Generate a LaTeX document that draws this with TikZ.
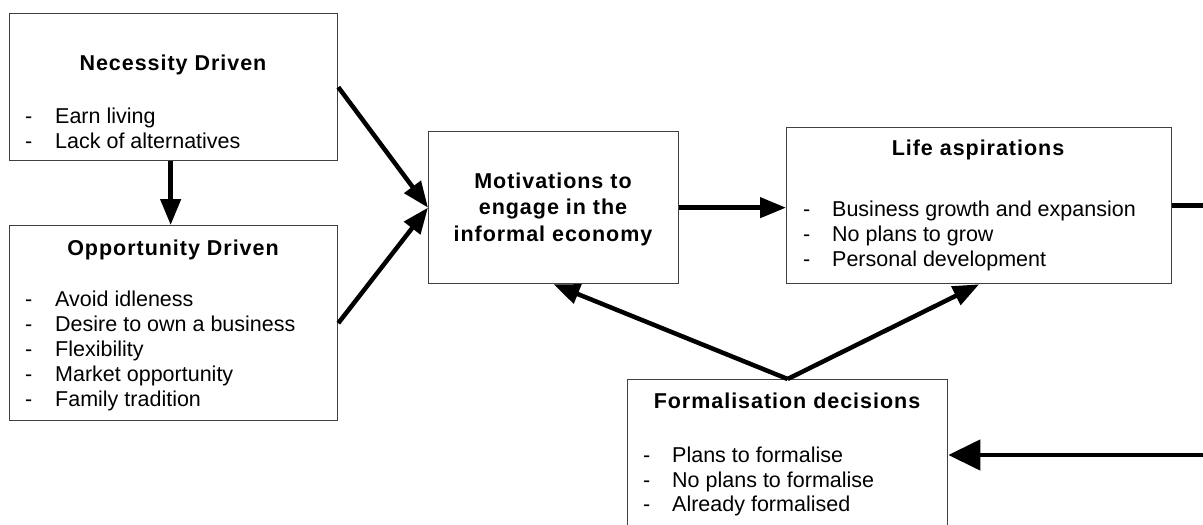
\documentclass[tikz,border=0pt]{standalone}
\usepackage{fontspec}
\setmainfont{Liberation Sans}
\newfontfamily\ttlfont{Liberation Sans}[LetterSpace=4.5]
\usetikzlibrary{arrows.meta}
\newcommand\mydash[1]{\makebox[#1][l]{-}}
\begin{document}
\begin{tikzpicture}[x=1pt,y=-1pt,
  box/.style={draw=black!75, line width=1.3pt, fill=white, anchor=north west, inner sep=0pt},
  ttl/.style={font=\ttlfont\bfseries\fontsize{21.5}{26}\selectfont, inner sep=0pt, anchor=base},
  itm/.style={font=\fontsize{21.5}{25}\selectfont, inner sep=0pt, anchor=base west},
  arr/.style={line width=4.5pt, -{Triangle[length=26pt,width=20pt]}},
  bigarr/.style={line width=4.5pt, -{Triangle[length=32pt,width=30pt]}},
]
\clip (0,0) rectangle (1203,525);
\fill[white] (0,0) rectangle (1203,525);

% boxes
\node[box, minimum width=328pt, minimum height=147pt] (nec) at (9,13) {};
\node[box, minimum width=328pt, minimum height=195pt] (opp) at (9,225) {};
\node[box, minimum width=250pt, minimum height=152pt] (mot) at (428,131) {};
\node[box, minimum width=385pt, minimum height=156pt] (life) at (786,127) {};
\node[box, minimum width=320pt, minimum height=152pt] (form) at (627,379) {};

% Necessity
\node[ttl] (necT) at (173,70) {Necessity Driven};
\node[itm] (nec1) at (25,123) {\mydash{30pt}Earn living};
\node[itm] (nec2) at (25,148) {\mydash{30pt}Lack of alternatives};

% Opportunity
\node[ttl] (oppT) at (173,255) {Opportunity Driven};
\node[itm] (opp1) at (25,306) {\mydash{30pt}Avoid idleness};
\node[itm] (opp2) at (25,331) {\mydash{30pt}Desire to own a business};
\node[itm] (opp3) at (25,356) {\mydash{30pt}Flexibility};
\node[itm] (opp4) at (25,381) {\mydash{30pt}Market opportunity};
\node[itm] (opp5) at (25,406) {\mydash{30pt}Family tradition};

% Motivations
\node[ttl] (mot1) at (553,188) {Motivations to};
\node[ttl] (mot2) at (553,214.5) {engage in the};
\node[ttl] (mot3) at (553,241) {informal economy};

% Life aspirations
\node[ttl] (lifeT) at (978,155) {Life aspirations};
\node[itm] (life1) at (803,216) {\mydash{29pt}Business growth and expansion};
\node[itm] (life2) at (803,241) {\mydash{29pt}No plans to grow};
\node[itm] (life3) at (803,266) {\mydash{29pt}Personal development};

% Formalisation
\node[ttl] (formT) at (787,408) {Formalisation decisions};
\node[itm] (form1) at (643,462.5) {\mydash{29pt}Plans to formalise};
\node[itm] (form2) at (643,487) {\mydash{29pt}No plans to formalise};
\node[itm] (form3) at (643,511.5) {\mydash{29pt}Already formalised};

% connectors
\coordinate (r1) at (1203,206);
\coordinate (r2) at (1203,455);
\draw[arr] ([xshift=-3pt]nec.south) -- ([xshift=-3pt]opp.north);
\draw[arr] (nec.east) -- (mot.west);
\draw[arr] (opp.east) -- (mot.west);
\draw[arr] (mot.east) -- (mot.east -| life.west);
\draw[line width=4.5pt] (life.east) -- (life.east -| r1);
\draw[arr] (form.north) -- (mot.south);
\draw[arr] (form.north) -- (life.south);
\draw[bigarr] (r2) -- (r2 -| form.east);
\end{tikzpicture}
\end{document}
